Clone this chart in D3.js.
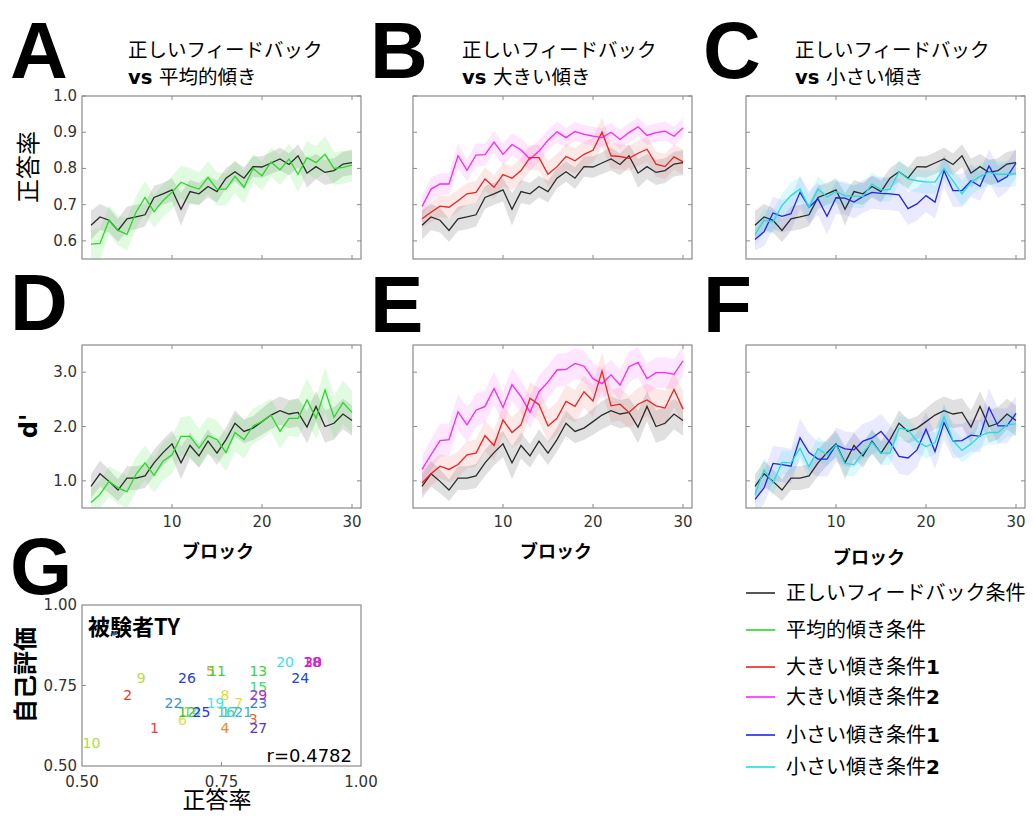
<!DOCTYPE html>
<html>
<head>
<meta charset="utf-8">
<script src="https://cdn.jsdelivr.net/npm/d3@7/dist/d3.min.js"></script>
<style>
  body { margin: 0; background: #fff; }
  svg text { font-family: "DejaVu Sans", Verdana, sans-serif; }
  svg .jp { font-family: "Noto Sans CJK JP", "Noto Sans", sans-serif; }
  svg .big { font-family: "Liberation Sans", Arial, sans-serif; font-weight: bold; }
</style>
</head>
<body>
<svg id="fig" width="1033" height="816"></svg>
<script>
// block numbers (x axis)
const blocks = [1,2,3,4,5,6,7,8,9,10,11,12,13,14,15,16,17,18,19,20,21,22,23,24,25,26,27,28,29,30];

// accuracy (正答率) per block
const accBlack   = [0.643,0.666,0.657,0.629,0.661,0.666,0.672,0.720,0.730,0.741,0.687,0.736,0.730,0.750,0.736,0.773,0.791,0.773,0.805,0.804,0.815,0.826,0.811,0.835,0.787,0.805,0.789,0.794,0.812,0.816];
const accGreen   = [0.591,0.593,0.657,0.629,0.618,0.679,0.720,0.681,0.711,0.734,0.762,0.751,0.743,0.775,0.743,0.743,0.778,0.748,0.800,0.780,0.818,0.796,0.826,0.784,0.830,0.816,0.839,0.800,0.803,0.809];
const accRed     = [0.661,0.679,0.696,0.693,0.711,0.730,0.734,0.771,0.748,0.783,0.773,0.794,0.830,0.830,0.784,0.805,0.833,0.821,0.839,0.850,0.900,0.835,0.833,0.828,0.842,0.853,0.812,0.805,0.832,0.818];
const accMagenta = [0.695,0.743,0.757,0.757,0.835,0.795,0.837,0.838,0.873,0.839,0.866,0.851,0.826,0.848,0.878,0.901,0.885,0.902,0.894,0.889,0.885,0.900,0.880,0.899,0.915,0.891,0.899,0.903,0.889,0.912];
const accBlue    = [0.604,0.625,0.677,0.668,0.675,0.734,0.693,0.716,0.668,0.719,0.718,0.707,0.723,0.734,0.731,0.730,0.727,0.689,0.702,0.725,0.707,0.794,0.739,0.739,0.766,0.751,0.807,0.763,0.777,0.815];
const accCyan    = [0.617,0.657,0.652,0.698,0.725,0.743,0.693,0.743,0.721,0.736,0.725,0.723,0.723,0.757,0.741,0.742,0.791,0.771,0.766,0.763,0.762,0.800,0.766,0.730,0.762,0.778,0.789,0.784,0.784,0.786];

// accuracy standard errors (band half width)
const seAccBlack   = [0.040,0.036,0.034,0.032,0.034,0.034,0.032,0.032,0.030,0.032,0.045,0.032,0.030,0.030,0.030,0.028,0.028,0.030,0.028,0.030,0.030,0.032,0.030,0.032,0.040,0.035,0.035,0.034,0.034,0.034];
const seAccGreen   = [0.040,0.042,0.040,0.042,0.045,0.045,0.045,0.045,0.045,0.045,0.045,0.050,0.045,0.045,0.045,0.045,0.045,0.045,0.040,0.040,0.040,0.042,0.042,0.048,0.045,0.045,0.050,0.045,0.045,0.045];
const seAccRed     = [0.025,0.028,0.030,0.030,0.030,0.030,0.032,0.032,0.032,0.032,0.032,0.035,0.035,0.035,0.035,0.035,0.035,0.035,0.035,0.035,0.040,0.035,0.035,0.035,0.035,0.035,0.035,0.035,0.035,0.035];
const seAccMagenta = [0.030,0.032,0.030,0.030,0.035,0.030,0.032,0.030,0.030,0.030,0.030,0.032,0.032,0.030,0.028,0.028,0.026,0.026,0.026,0.026,0.026,0.026,0.026,0.026,0.026,0.026,0.026,0.026,0.026,0.026];
const seAccBlue    = [0.030,0.040,0.045,0.045,0.045,0.045,0.045,0.045,0.050,0.045,0.045,0.045,0.045,0.045,0.045,0.045,0.045,0.045,0.045,0.045,0.045,0.045,0.045,0.045,0.045,0.040,0.045,0.045,0.040,0.040];
const seAccCyan    = [0.030,0.032,0.032,0.032,0.035,0.035,0.035,0.035,0.035,0.032,0.032,0.032,0.032,0.032,0.032,0.032,0.032,0.032,0.032,0.032,0.032,0.032,0.032,0.035,0.035,0.035,0.035,0.035,0.035,0.035];

// d' per block
const dpBlack   = [0.90,1.13,0.99,0.83,1.05,1.05,1.09,1.33,1.52,1.68,1.33,1.65,1.46,1.73,1.51,1.76,2.06,1.91,1.97,2.09,2.21,2.29,2.23,2.26,1.99,2.37,2.00,2.06,2.23,2.11];
const dpGreen   = [0.60,0.75,0.99,0.87,0.80,1.12,1.33,1.10,1.36,1.48,1.82,1.82,1.60,1.83,1.76,1.52,1.89,1.76,2.01,2.09,2.21,1.91,2.15,2.15,2.49,2.15,2.67,2.17,2.44,2.26];
const dpRed     = [0.96,1.13,1.27,1.21,1.30,1.48,1.51,1.83,1.65,2.12,1.89,2.03,2.52,2.40,2.01,2.15,2.46,2.37,2.64,2.47,3.02,2.38,2.41,2.26,2.41,2.49,2.38,2.34,2.68,2.32];
const dpMagenta = [1.21,1.48,1.74,1.76,2.27,2.03,2.30,2.37,2.70,2.35,2.77,2.55,2.26,2.64,2.82,3.04,3.05,3.16,3.11,2.88,2.79,2.95,2.76,3.10,3.18,2.88,2.99,2.99,2.96,3.21];
const dpBlue    = [0.66,0.87,1.32,1.30,1.27,1.79,1.52,1.40,1.40,1.66,1.59,1.57,1.73,1.79,1.91,1.71,1.45,1.42,1.57,1.95,1.54,2.07,1.73,1.74,1.84,1.82,2.35,2.01,2.01,2.24];
const dpCyan    = [0.75,1.20,0.96,1.34,1.33,1.60,1.26,1.59,1.48,1.66,1.32,1.30,1.52,1.71,1.51,1.51,1.97,1.94,1.73,1.63,1.70,2.18,1.74,1.56,1.68,1.83,1.89,1.89,2.03,2.05];

// d' standard errors
const seDpBlack   = [0.22,0.24,0.22,0.20,0.22,0.22,0.22,0.24,0.24,0.24,0.30,0.24,0.22,0.22,0.22,0.22,0.24,0.22,0.22,0.24,0.26,0.26,0.26,0.26,0.30,0.28,0.30,0.30,0.28,0.28];
const seDpGreen   = [0.25,0.25,0.28,0.30,0.30,0.32,0.32,0.32,0.35,0.35,0.35,0.38,0.35,0.35,0.35,0.35,0.35,0.35,0.32,0.32,0.30,0.32,0.32,0.35,0.40,0.38,0.42,0.40,0.40,0.40];
const seDpRed     = [0.20,0.22,0.22,0.24,0.24,0.25,0.25,0.28,0.28,0.28,0.28,0.30,0.30,0.30,0.30,0.30,0.30,0.30,0.30,0.30,0.35,0.30,0.30,0.30,0.30,0.30,0.32,0.32,0.32,0.32];
const seDpMagenta = [0.25,0.28,0.30,0.30,0.32,0.32,0.30,0.30,0.30,0.30,0.30,0.30,0.30,0.30,0.30,0.30,0.30,0.28,0.28,0.28,0.28,0.28,0.28,0.28,0.28,0.28,0.28,0.28,0.28,0.28];
const seDpBlue    = [0.25,0.30,0.32,0.32,0.32,0.35,0.35,0.32,0.32,0.32,0.32,0.32,0.32,0.32,0.32,0.32,0.32,0.32,0.32,0.32,0.32,0.32,0.32,0.30,0.30,0.30,0.35,0.32,0.32,0.32];
const seDpCyan    = [0.20,0.22,0.22,0.22,0.22,0.22,0.22,0.22,0.22,0.22,0.22,0.22,0.22,0.22,0.22,0.22,0.22,0.22,0.22,0.22,0.22,0.25,0.22,0.22,0.22,0.22,0.22,0.22,0.22,0.22];

// axis ticks
const accTicks = [0.6, 0.7, 0.8, 0.9, 1.0];
const dpTicks = [1.0, 2.0, 3.0];
const blockTicks = [10, 20, 30];

// scatter G: subject TY, one point per block
const subjLabels = [1,2,3,4,5,6,7,8,9,10,11,12,13,14,15,16,17,18,19,20,21,22,23,24,25,26,27,28,29,30];
const subjAcc  = [0.630,0.582,0.807,0.756,0.730,0.680,0.781,0.756,0.606,0.517,0.742,0.688,0.816,0.697,0.816,0.758,0.765,0.912,0.739,0.864,0.789,0.664,0.816,0.891,0.714,0.688,0.816,0.914,0.816,0.914];
const subjSelf = [0.619,0.720,0.645,0.619,0.796,0.643,0.695,0.720,0.772,0.570,0.796,0.669,0.796,0.669,0.746,0.669,0.669,0.824,0.695,0.824,0.669,0.695,0.695,0.772,0.669,0.772,0.619,0.824,0.720,0.824];
const scatterTicks = [0.50, 0.75, 1.00];
const corrText = "r=0.4782";

// legend
const legendNames = ["正しいフィードバック条件","平均的傾き条件","大きい傾き条件1","大きい傾き条件2","小さい傾き条件1","小さい傾き条件2"];

// ---------- styles ----------
const lineColor = { black: "#2b2b2b", green: "#22dd22", red: "#ee2222", magenta: "#ff22ff", blue: "#2222ee", cyan: "#22dddd" };
const bandColor = {
  black: "rgba(0,0,0,0.12)", green: "rgba(90,235,90,0.18)", red: "rgba(240,100,100,0.15)",
  magenta: "rgba(255,90,255,0.15)", blue: "rgba(70,70,255,0.12)", cyan: "rgba(60,230,240,0.18)"
};
const subjColors = ["#e84040","#e83c28","#e8602c","#e88a2c","#dca030","#e0dc40","#e8e040","#e0d840","#b4e040","#a8e040",
  "#40d040","#30c040","#40d040","#60e060","#40e060","#40d0b0","#40c8c0","#c040c0","#40e8f0","#40e0f0",
  "#40b0e0","#4090d8","#3080d0","#2040e0","#3030e0","#2040e8","#6030d0","#e020e0","#b030d0","#d020d0"];

const svg = d3.select("#fig");
const W = 279, H = 163;
const boxColor = "#8a8a8a";

const panels = [
  { x: 82,  y: 96,  dom: [0.55, 1.0], ticks: accTicks, left: true,  bottom: false,
    series: [["black", accBlack, seAccBlack], ["green", accGreen, seAccGreen]] },
  { x: 413, y: 96,  dom: [0.55, 1.0], ticks: accTicks, left: false, bottom: false,
    series: [["black", accBlack, seAccBlack], ["magenta", accMagenta, seAccMagenta], ["red", accRed, seAccRed]] },
  { x: 746, y: 96,  dom: [0.55, 1.0], ticks: accTicks, left: false, bottom: false,
    series: [["black", accBlack, seAccBlack], ["blue", accBlue, seAccBlue], ["cyan", accCyan, seAccCyan]] },
  { x: 82,  y: 345, dom: [0.5, 3.5], ticks: dpTicks, left: true,  bottom: true,
    series: [["black", dpBlack, seDpBlack], ["green", dpGreen, seDpGreen]] },
  { x: 413, y: 345, dom: [0.5, 3.5], ticks: dpTicks, left: false, bottom: true,
    series: [["black", dpBlack, seDpBlack], ["magenta", dpMagenta, seDpMagenta], ["red", dpRed, seDpRed]] },
  { x: 746, y: 345, dom: [0.5, 3.5], ticks: dpTicks, left: false, bottom: true,
    series: [["black", dpBlack, seDpBlack], ["blue", dpBlue, seDpBlue], ["cyan", dpCyan, seDpCyan]] }
];

function frame(g, xs, ys, xt, yt) {
  g.append("rect").attr("x", 0).attr("y", 0).attr("width", W).attr("height", H)
    .attr("fill", "none").attr("stroke", boxColor).attr("stroke-width", 1.2);
  xt.forEach(t => {
    g.append("line").attr("x1", xs(t)).attr("x2", xs(t)).attr("y1", H).attr("y2", H - 4).attr("stroke", boxColor);
    g.append("line").attr("x1", xs(t)).attr("x2", xs(t)).attr("y1", 0).attr("y2", 4).attr("stroke", boxColor);
  });
  yt.forEach(t => {
    g.append("line").attr("x1", 0).attr("x2", 4).attr("y1", ys(t)).attr("y2", ys(t)).attr("stroke", boxColor);
    g.append("line").attr("x1", W).attr("x2", W - 4).attr("y1", ys(t)).attr("y2", ys(t)).attr("stroke", boxColor);
  });
}

panels.forEach(p => {
  const g = svg.append("g").attr("transform", `translate(${p.x},${p.y})`);
  const x = d3.scaleLinear().domain([0, 31]).range([0, W]);
  const y = d3.scaleLinear().domain(p.dom).range([H, 0]);

  const area = (m, s) => d3.area()
    .x((d, i) => x(blocks[i]))
    .y0((d, i) => y(m[i] - s[i]))
    .y1((d, i) => y(m[i] + s[i]))(m);
  const line = d3.line().x((d, i) => x(blocks[i])).y(d => y(d));

  const clip = "clip" + p.x + "_" + p.y;
  g.append("clipPath").attr("id", clip).append("rect").attr("width", W).attr("height", H);
  const inner = g.append("g").attr("clip-path", `url(#${clip})`);

  p.series.forEach(([c, m, s]) => {
    inner.append("path").attr("d", area(m, s)).attr("fill", bandColor[c]);
  });
  p.series.forEach(([c, m]) => {
    inner.append("path").attr("d", line(m)).attr("fill", "none")
      .attr("stroke", lineColor[c]).attr("stroke-width", 1.3);
  });

  frame(g, x, y, blockTicks, p.ticks);

  if (p.left) {
    p.ticks.forEach(t => {
      g.append("text").attr("x", -5).attr("y", y(t) + 5).attr("text-anchor", "end")
        .attr("font-size", 15).attr("fill", "#333").text(t.toFixed(1));
    });
  }
  if (p.bottom) {
    blockTicks.forEach(t => {
      g.append("text").attr("x", x(t)).attr("y", H + 19).attr("text-anchor", "middle")
        .attr("font-size", 15).attr("fill", "#333").text(t);
    });
  }
});

// panel letters
[["A",10,78],["B",370,78],["C",703,78],["D",10,330],["E",370,332],["F",703,332],["G",10,594]].forEach(([t, x, y]) => {
  svg.append("text").attr("class", "big").attr("x", x).attr("y", y).attr("font-size", 80).attr("fill", "#000").text(t);
});

// titles
[[128, "平均的傾き"], [462, "大きい傾き"], [795, "小さい傾き"]].forEach(([x, t]) => {
  svg.append("text").attr("class", "jp").attr("x", x).attr("y", 57).attr("font-size", 19.5).attr("fill", "#000")
    .text("正しいフィードバック");
  const t2 = svg.append("text").attr("class", "jp").attr("x", x).attr("y", 84).attr("font-size", 19.5).attr("fill", "#000");
  t2.append("tspan").attr("font-family", "DejaVu Sans").attr("font-weight", "bold").text("vs ");
  t2.append("tspan").text(t);
});

// y labels
svg.append("text").attr("class", "jp").attr("transform", "translate(37,167) rotate(-90)")
  .attr("text-anchor", "middle").attr("font-size", 24).attr("fill", "#000").text("正答率");
svg.append("text").attr("transform", "translate(37,426) rotate(-90)")
  .attr("text-anchor", "middle").attr("font-size", 24).attr("font-weight", "bold").attr("fill", "#000").text("d'");

// x labels
[[218, 558], [556, 558], [869, 564]].forEach(([x, y]) => {
  svg.append("text").attr("class", "jp").attr("x", x).attr("y", y).attr("text-anchor", "middle")
    .attr("font-size", 18).attr("font-weight", "bold").attr("fill", "#000").text("ブロック");
});

// ---------- scatter G ----------
{
  const gx = 82, gy = 605, gw = 279, gh = 161;
  const g = svg.append("g").attr("transform", `translate(${gx},${gy})`);
  const x = d3.scaleLinear().domain([0.5, 1.0]).range([0, gw]);
  const y = d3.scaleLinear().domain([0.5, 1.0]).range([gh, 0]);
  g.append("rect").attr("width", gw).attr("height", gh).attr("fill", "none").attr("stroke", boxColor).attr("stroke-width", 1.2);
  g.append("line").attr("x1", x(0.75)).attr("x2", x(0.75)).attr("y1", gh).attr("y2", gh - 4).attr("stroke", boxColor);
  g.append("line").attr("x1", 0).attr("x2", 4).attr("y1", y(0.75)).attr("y2", y(0.75)).attr("stroke", boxColor);

  scatterTicks.forEach(t => {
    g.append("text").attr("x", -5).attr("y", y(t) + 5).attr("text-anchor", "end")
      .attr("font-size", 15).attr("fill", "#333").text(t.toFixed(2));
    g.append("text").attr("x", x(t)).attr("y", gh + 21).attr("text-anchor", "middle")
      .attr("font-size", 15).attr("fill", "#333").text(t.toFixed(2));
  });

  subjLabels.forEach((lab, i) => {
    g.append("text").attr("x", x(subjAcc[i])).attr("y", y(subjSelf[i]) + 5).attr("text-anchor", "middle")
      .attr("font-size", 14).attr("fill", subjColors[i]).text(lab);
  });

  g.append("text").attr("class", "jp").attr("x", 6).attr("y", 30).attr("font-size", 22)
    .attr("font-weight", "bold").attr("fill", "#000").text("被験者TY");
  g.append("text").attr("x", gw - 9).attr("y", gh - 4).attr("text-anchor", "end")
    .attr("font-size", 18).attr("fill", "#000").text(corrText);

  svg.append("text").attr("class", "jp").attr("transform", "translate(34,675) rotate(-90)")
    .attr("text-anchor", "middle").attr("font-size", 24).attr("font-weight", "bold").attr("fill", "#000").text("自己評価");
  svg.append("text").attr("class", "jp").attr("x", 217).attr("y", 808).attr("text-anchor", "middle")
    .attr("font-size", 23).attr("fill", "#000").text("正答率");
}

// ---------- legend ----------
const legendKeys = ["black", "green", "red", "magenta", "blue", "cyan"];
const legendY = [593, 630, 667, 697, 735, 767];
legendNames.forEach((name, i) => {
  const yy = legendY[i];
  svg.append("line").attr("x1", 746).attr("x2", 775).attr("y1", yy).attr("y2", yy)
    .attr("stroke", lineColor[legendKeys[i]]).attr("stroke-width", 1.6);
  const t = svg.append("text").attr("class", "jp").attr("x", 786).attr("y", yy + 7)
    .attr("font-size", 20).attr("fill", "#000");
  const m = name.match(/^(.*?)(\d?)$/);
  t.append("tspan").text(m[1]);
  if (m[2]) t.append("tspan").attr("font-weight", "bold").attr("font-family", "DejaVu Sans").text(m[2]);
});
</script>
</body>
</html>
